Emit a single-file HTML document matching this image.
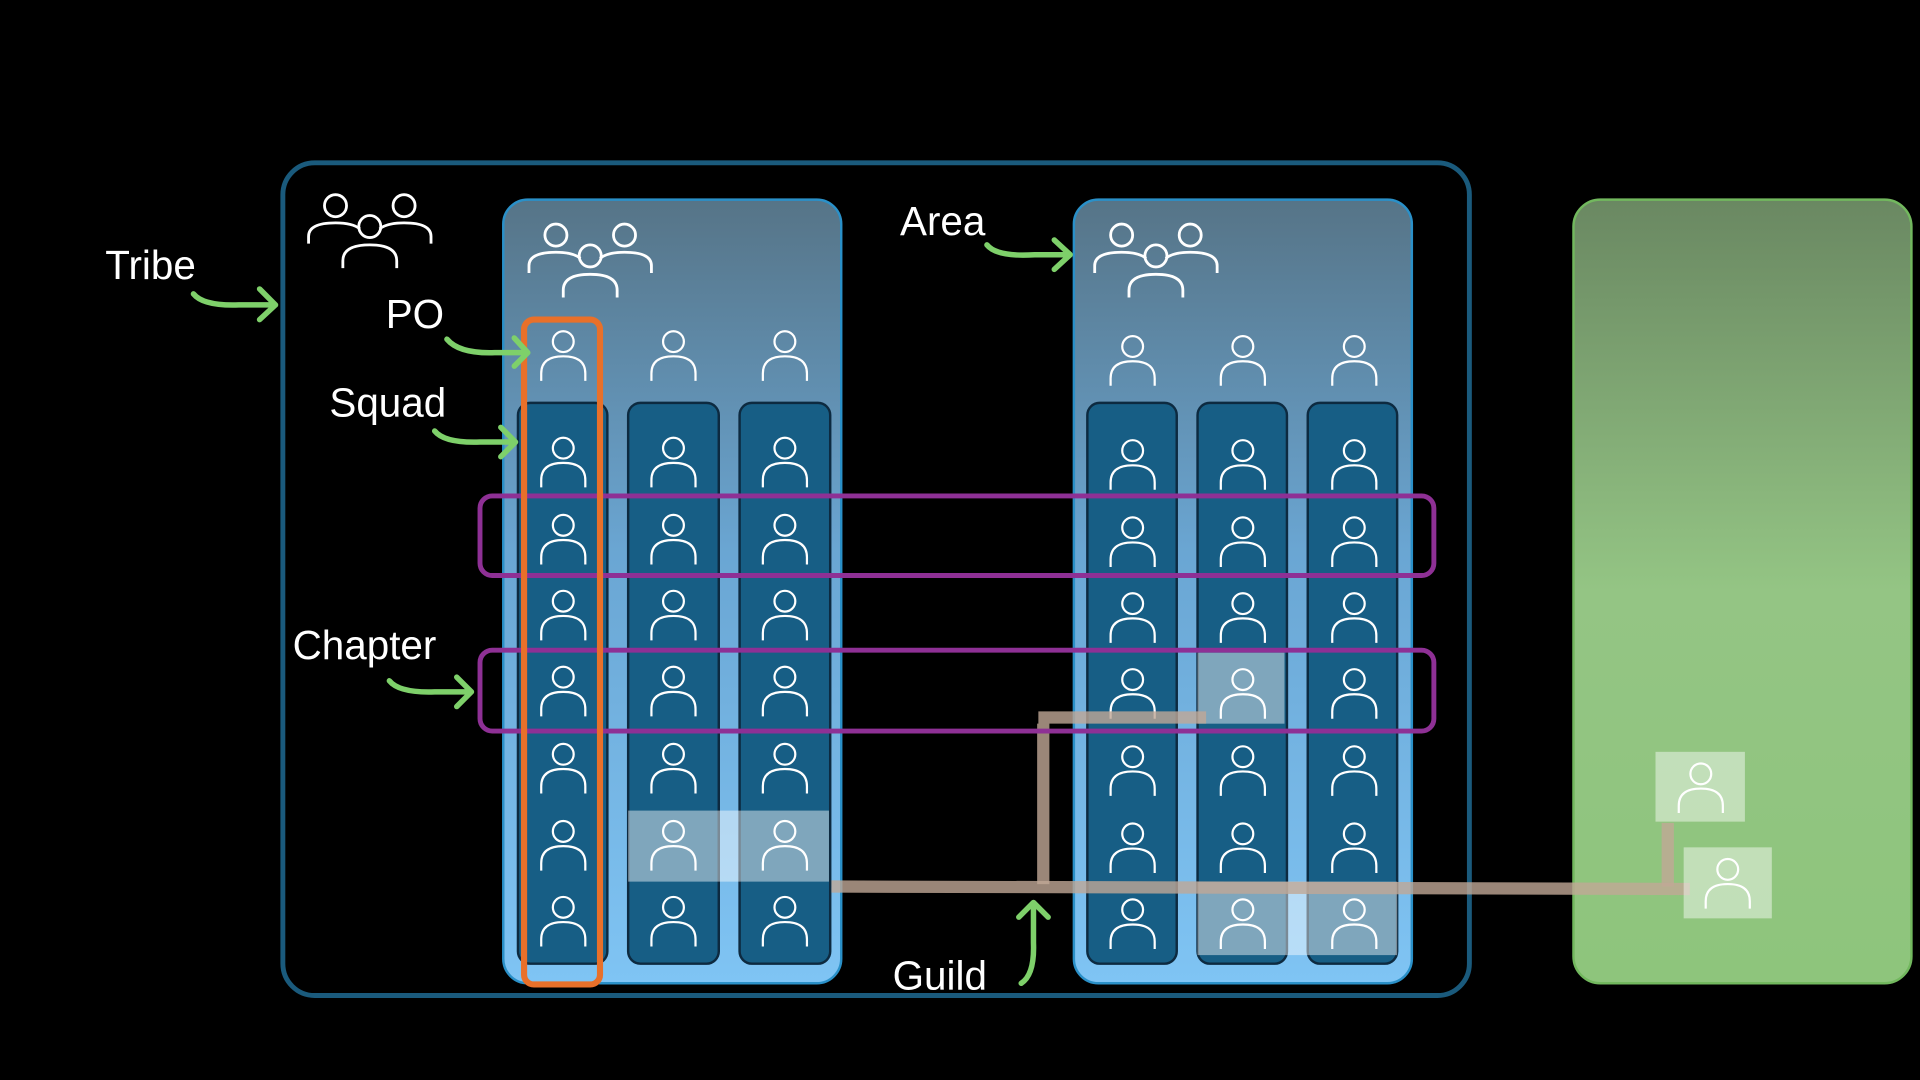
<!DOCTYPE html>
<html><head><meta charset="utf-8"><style>
html,body{margin:0;padding:0;background:#000;width:1920px;height:1080px;overflow:hidden}
svg{display:block}
text{font-family:"Liberation Sans",sans-serif;fill:#fff;font-size:33px}
</style></head><body>
<svg width="1920" height="1080" viewBox="0 0 1568 882" xmlns="http://www.w3.org/2000/svg">
<defs>
<linearGradient id="ga" x1="0" y1="0" x2="0" y2="1">
<stop offset="0" stop-color="#567487"/><stop offset="0.45" stop-color="#6aa6d3"/><stop offset="1" stop-color="#7fc4f4"/></linearGradient>
<linearGradient id="gg" x1="0" y1="0" x2="0" y2="1">
<stop offset="0" stop-color="#6a8862"/><stop offset="0.5" stop-color="#94c584"/><stop offset="1" stop-color="#8ec57c"/></linearGradient>
<g id="p" fill="none" stroke="#fff" stroke-width="1.8">
<circle cx="0" cy="0" r="8.5"/>
<path d="M-18,32 L-18,26 Q-18,12 0,12 Q18,12 18,26 L18,32"/>
</g>
<g id="grp" fill="none" stroke="#fff" stroke-width="2.3">
<circle cx="-28" cy="-17" r="9"/><path d="M-50,14 L-50,8 Q-50,-3 -28,-3 Q-14,-3 -8,2"/>
<circle cx="28" cy="-17" r="9"/><path d="M50,14 L50,8 Q50,-3 28,-3 Q14,-3 8,2"/>
<circle cx="0" cy="0" r="9"/><path d="M-22,34 L-22,28 Q-22,15 0,15 Q22,15 22,28 L22,34"/>
</g>
<g id="col">
<use href="#p" x="0" y="366"/><use href="#p" x="0" y="429"/><use href="#p" x="0" y="491"/><use href="#p" x="0" y="553"/><use href="#p" x="0" y="616"/><use href="#p" x="0" y="679"/><use href="#p" x="0" y="741"/>
</g>
</defs>

<rect x="231" y="133" width="969" height="680" rx="26" fill="none" stroke="#1a5a7c" stroke-width="4"/>
<use href="#grp" x="302" y="185"/>

<rect x="411" y="163" width="276" height="640" rx="20" fill="url(#ga)" stroke="#2a90c8" stroke-width="2"/>
<rect x="877" y="163" width="276" height="640" rx="20" fill="url(#ga)" stroke="#2a90c8" stroke-width="2"/>
<rect x="1285" y="163" width="276" height="640" rx="22" fill="url(#gg)" stroke="#72b85e" stroke-width="2"/>

<use href="#grp" x="482" y="209"/>
<use href="#grp" x="944" y="209"/>

<g fill="#175e85" stroke="#0d2a40" stroke-width="2">
<rect x="423" y="329" width="73" height="458" rx="10"/>
<rect x="513" y="329" width="74" height="458" rx="10"/>
<rect x="604" y="329" width="74" height="458" rx="10"/>
<rect x="888" y="329" width="73" height="458" rx="10"/>
<rect x="978" y="329" width="73" height="458" rx="10"/>
<rect x="1068" y="329" width="73" height="458" rx="10"/>
</g>

<g fill="#fff" fill-opacity="0.45">
<rect x="513" y="662" width="164" height="58"/>
<rect x="978" y="533" width="71" height="58"/>
<rect x="978" y="720" width="163" height="60"/>
</g>

<g>
<use href="#p" x="460" y="279"/><use href="#p" x="550" y="279"/><use href="#p" x="641" y="279"/>
<use href="#p" x="925" y="283"/><use href="#p" x="1015" y="283"/><use href="#p" x="1106" y="283"/>
</g>
<use href="#col" x="460"/><use href="#col" x="550"/><use href="#col" x="641"/>
<use href="#col" x="925" y="2"/><use href="#col" x="1015" y="2"/><use href="#col" x="1106" y="2"/>

<g stroke="#c0a896" stroke-opacity="0.8" stroke-width="10" fill="none">
<path d="M679,724 L1380,726"/>
<path d="M852,722 L852,591 M848,586 L985,586"/>
<path d="M1362,724 L1362,672"/>
</g>
<g fill="#fff" fill-opacity="0.45">
<rect x="1352" y="614" width="73" height="57"/>
<rect x="1375" y="692" width="72" height="58"/>
</g>
<use href="#p" x="1389" y="632"/>
<use href="#p" x="1411" y="710"/>

<rect x="392" y="405" width="779" height="65" rx="10" fill="none" stroke="#8e3095" stroke-width="4"/>
<rect x="392" y="531" width="779" height="66" rx="10" fill="none" stroke="#8e3095" stroke-width="4"/>
<rect x="428" y="261" width="62" height="543" rx="8" fill="none" stroke="#e8702a" stroke-width="5"/>

<text x="86" y="228">Tribe</text>
<text x="315" y="268">PO</text>
<text x="269" y="340">Squad</text>
<text x="239" y="538">Chapter</text>
<text x="735" y="192">Area</text>
<text x="729" y="808">Guild</text>

<g fill="none" stroke="#7ed06a" stroke-width="4.5" stroke-linecap="round" stroke-linejoin="round">
<path d="M158,240 Q166,250 195,249 L225,249 M212,236 L225,249 L212,261"/>
<path d="M365,277 Q375,289 404,288 L430,288 M420,276 L431,288 L420,299"/>
<path d="M355,352 Q363,362 392,361 L420,361 M409,349 L421,361 L409,373"/>
<path d="M318,556 Q326,566 355,565 L385,565 M373,553 L385,565 L373,577"/>
<path d="M806,200 Q814,210 845,208 L873,208 M861,196 L874,208 L861,220"/>
<path d="M834,803 Q845,796 844,770 L844,737 M832,749 L844,737 L856,749"/>
</g>
</svg>
</body></html>
